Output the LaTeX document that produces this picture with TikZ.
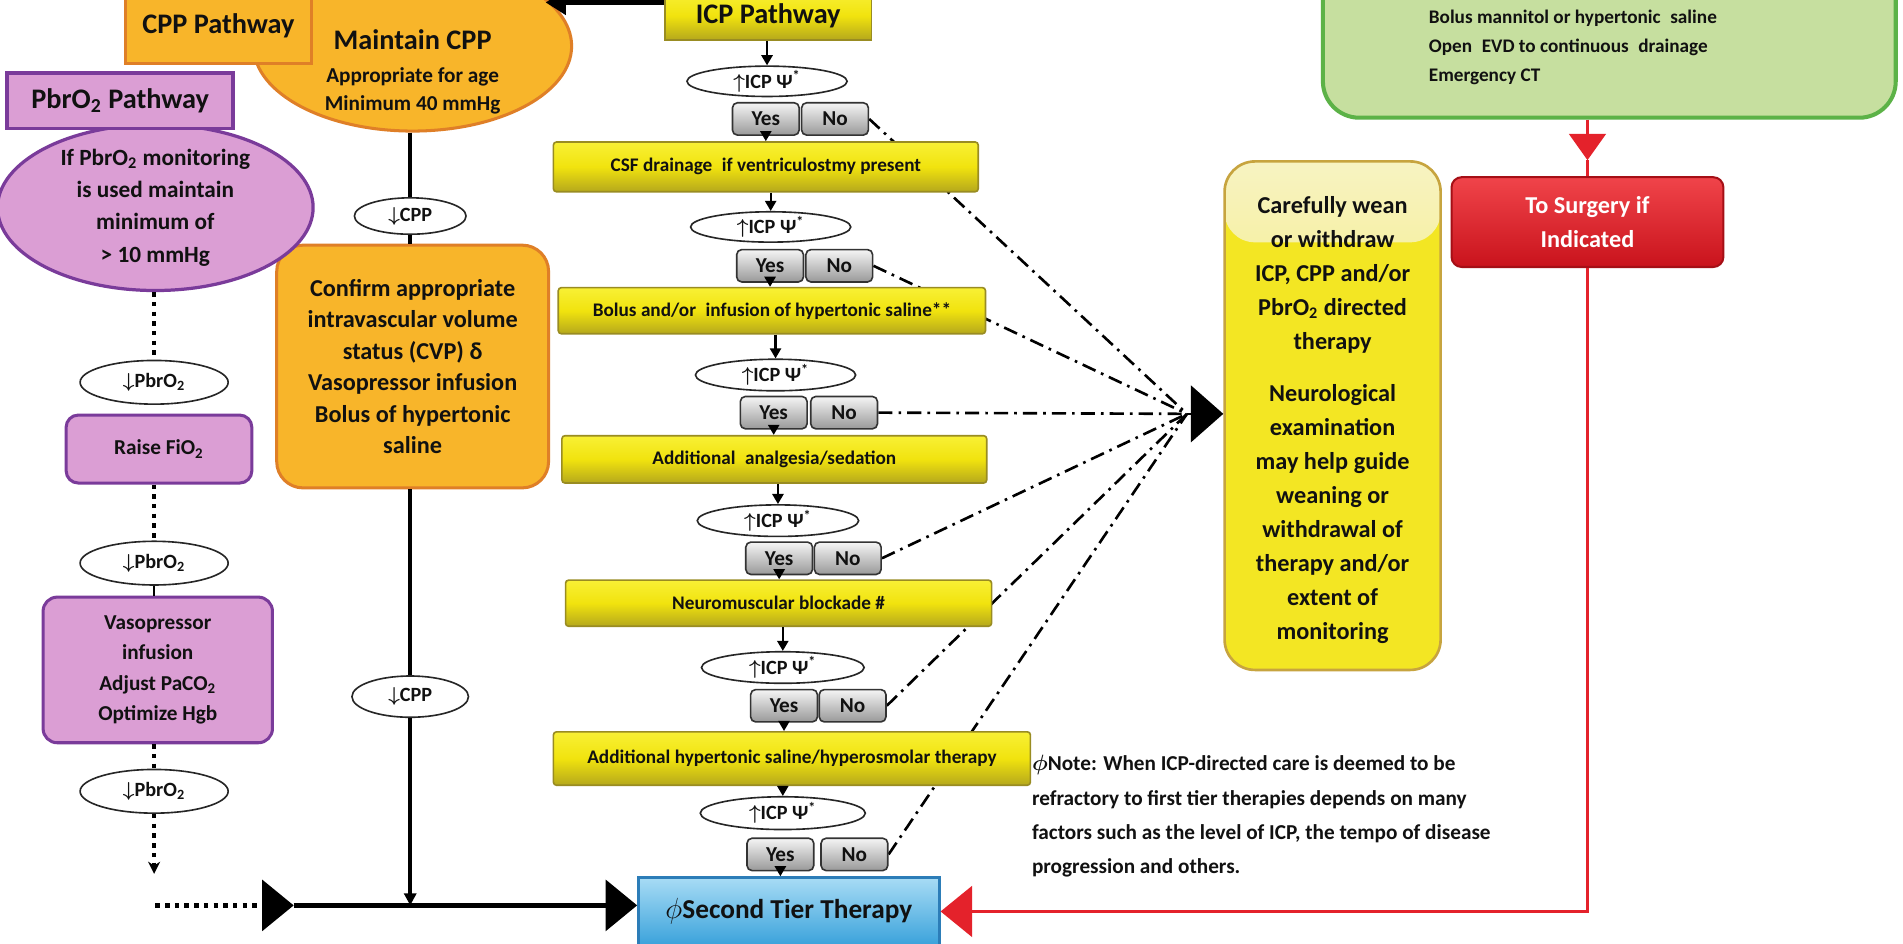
\documentclass[tikz,border=0pt]{standalone}
\usepackage{fontspec}
\setmainfont{Carlito}
\usetikzlibrary{arrows.meta,shapes.geometric}
\pgfdeclarelayer{bg}
\pgfdeclarelayer{lines}
\pgfsetlayers{bg,lines,main}
\definecolor{orF}{HTML}{F8B52A}
\definecolor{orD}{HTML}{DF7F27}
\definecolor{puF}{HTML}{DB9ED4}
\definecolor{puD}{HTML}{7A3B9A}
\definecolor{yeT}{HTML}{F8F035}
\definecolor{yeM}{HTML}{F1E30E}
\definecolor{yeB}{HTML}{B5A81C}
\definecolor{yeD}{HTML}{998C22}
\definecolor{grF}{HTML}{C6DF9F}
\definecolor{grD}{HTML}{5CB247}
\definecolor{rdT}{HTML}{F0444A}
\definecolor{rdB}{HTML}{C9131C}
\definecolor{rdD}{HTML}{A50F16}
\definecolor{rdL}{HTML}{E4222B}
\definecolor{blT}{HTML}{A8DCF5}
\definecolor{blB}{HTML}{3AA2DB}
\definecolor{blD}{HTML}{2C7DB8}
\definecolor{caT}{HTML}{F7F3C2}
\definecolor{caM}{HTML}{F3E623}
\definecolor{caD}{HTML}{C7A43F}
\definecolor{txt}{HTML}{111111}
\begin{document}
\begin{tikzpicture}[x=0.6pt,y=-0.6pt,
  tb/.style={inner sep=0pt, align=center, text=txt},
  oell/.style={tb, ellipse, fill=orF, draw=orD, line width=1.5pt},
  obox/.style={tb, rectangle, fill=orF, draw=orD, line width=1.5pt},
  pell/.style={tb, ellipse, fill=puF, draw=puD, line width=1.6pt},
  pbox/.style={tb, rectangle, fill=puF, draw=puD, line width=1.8pt},
  ybox/.style={tb, rectangle, rounded corners=1.5pt, draw=yeD, line width=0.8pt,
     top color=yeT, bottom color=yeB, middle color=yeM,
     font=\bfseries\fontsize{9.5}{11.5}\selectfont},
  qell/.style={tb, ellipse, draw=black!85, fill=white, line width=0.8pt,
     font=\bfseries\boldmath\fontsize{10}{12}\selectfont},
  ynbtn/.style={tb, rectangle, rounded corners=2.5pt, draw=black!80, line width=0.8pt,
     top color=white!96!black, bottom color=black!40, minimum width=33pt, minimum height=16pt,
     font=\bfseries\fontsize{10.5}{12}\selectfont},
  sarr/.style={line width=1.1pt, -{Triangle[length=5pt,width=5.5pt]}},
  bigtri/.style={-{Triangle[length=15.6pt,width=25pt]}},
  fanl/.style={line width=1.3pt, dash pattern=on 7pt off 3pt on 1.3pt off 3pt},
  dotl/.style={line width=2.2pt, dash pattern=on 2.2pt off 2.6pt},
  redl/.style={draw=rdL, line width=1.8pt}
]
\begin{pgfonlayer}{bg}
  \fill[white] (0,0) rectangle (1568,777);
\end{pgfonlayer}
\useasboundingbox (0,0) rectangle (1568,777);

% ---------------- CPP pathway ----------------
\node[oell, minimum width=157.2pt, minimum height=84pt] (mcpp) at (340,38) {};
\node[tb, font=\bfseries\fontsize{10.5}{13.5}\selectfont] (mcpptxt) at (340,59)
  {{\fontsize{14}{16}\selectfont Maintain CPP}\\[3pt]Appropriate for age\\Minimum 40 mmHg};
\node[obox, minimum width=91.8pt, minimum height=37.2pt, font=\bfseries\fontsize{14}{16}\selectfont] (cpppath) at (180,21) {CPP Pathway};
\node[qell, minimum width=55.2pt, minimum height=18pt] (cppdn1) at (338,178) {$\downarrow$CPP};
\node[obox, rounded corners=13pt, minimum width=134.4pt, minimum height=120pt,
      font=\bfseries\fontsize{12}{15.6}\selectfont] (confirm) at (340,302)
  {Confirm appropriate\\intravascular volume\\status (CVP) δ\\Vasopressor infusion\\Bolus of hypertonic\\saline};
\node[qell, minimum width=57.6pt, minimum height=20.4pt] (cppdn2) at (338,574) {$\downarrow$CPP};

% ---------------- PbrO2 pathway ----------------
\node[pell, minimum width=156pt, minimum height=80.4pt, font=\bfseries\fontsize{11.5}{16}\selectfont] (pbrell) at (128,171)
  {If PbrO\textsubscript{2} monitoring\\is used maintain\\minimum of\\> 10 mmHg};
\node[pbox, minimum width=111.6pt, minimum height=27.6pt, font=\bfseries\fontsize{14}{16}\selectfont] (pbrpath) at (99,83) {PbrO\textsubscript{2} Pathway};
\node[qell, minimum width=73.2pt, minimum height=21.6pt] (pdn1) at (127,315) {$\downarrow$PbrO\textsubscript{2}};
\node[pbox, rounded corners=6pt, minimum width=91.8pt, minimum height=33.6pt, line width=1.5pt,
      font=\bfseries\fontsize{10.5}{12}\selectfont] (raise) at (131,370) {Raise FiO\textsubscript{2}};
\node[qell, minimum width=73.2pt, minimum height=21.6pt] (pdn2) at (127,464) {$\downarrow$PbrO\textsubscript{2}};
\node[pbox, rounded corners=7pt, minimum width=113.4pt, minimum height=72pt, line width=1.5pt,
      font=\bfseries\fontsize{10.5}{15}\selectfont] (vaso) at (130,552)
  {Vasopressor\\infusion\\Adjust PaCO\textsubscript{2}\\Optimize Hgb};
\node[qell, minimum width=73.2pt, minimum height=21.6pt] (pdn3) at (127,652) {$\downarrow$PbrO\textsubscript{2}};

% ---------------- ICP pathway ----------------
\node[ybox, rounded corners=0pt, minimum width=102pt, minimum height=24pt, font=\bfseries\fontsize{14}{16}\selectfont] (icp) at (633,13) {ICP Pathway};
\node[qell, minimum width=79.2pt, minimum height=15pt] (e1) at (632,67) {$\uparrow$ICP Ψ\textsuperscript{*}};
\node[ynbtn] (yes1) at (631,98) {Yes};
\node[ynbtn] (no1) at (688,98) {No};
\node[ybox, minimum width=210pt, minimum height=24.6pt] (csf) at (631,137.5) {CSF drainage\enspace if ventriculostmy present};
\node[qell, minimum width=79.2pt, minimum height=15pt] (e2) at (635,187) {$\uparrow$ICP Ψ\textsuperscript{*}};
\node[ynbtn] (yes2) at (634.5,219) {Yes};
\node[ynbtn] (no2) at (691.5,219) {No};
\node[ybox, minimum width=211.2pt, minimum height=22.8pt] (bolus) at (636,256) {Bolus and/or\enspace infusion of hypertonic saline**};
\node[qell, minimum width=79.2pt, minimum height=15.6pt] (e3) at (639,309) {$\uparrow$ICP Ψ\textsuperscript{*}};
\node[ynbtn] (yes3) at (637.5,340) {Yes};
\node[ynbtn] (no3) at (695.5,340) {No};
\node[ybox, minimum width=210pt, minimum height=23.4pt] (anal) at (638,378.5) {Additional\enspace analgesia/sedation};
\node[qell, minimum width=79.8pt, minimum height=15.6pt] (e4) at (641,429) {$\uparrow$ICP Ψ\textsuperscript{*}};
\node[ynbtn] (yes4) at (642,460) {Yes};
\node[ynbtn] (no4) at (698.5,460) {No};
\node[ybox, minimum width=210.6pt, minimum height=22.8pt] (neuro) at (641.5,497) {Neuromuscular blockade \#};
\node[qell, minimum width=80.4pt, minimum height=15.6pt] (e5) at (645,550) {$\uparrow$ICP Ψ\textsuperscript{*}};
\node[ynbtn] (yes5) at (646,581.5) {Yes};
\node[ynbtn] (no5) at (702.5,581.5) {No};
\node[ybox, minimum width=235.8pt, minimum height=26.4pt] (addhyp) at (652.5,625) {Additional hypertonic saline/hyperosmolar therapy};
\node[qell, minimum width=81.6pt, minimum height=16.2pt] (e6) at (645,670) {$\uparrow$ICP Ψ\textsuperscript{*}};
\node[ynbtn] (yes6) at (643,704) {Yes};
\node[ynbtn] (no6) at (704,704) {No};
\node[tb, rectangle, draw=blD, line width=1.2pt, top color=blT, bottom color=blB,
      minimum width=148.8pt, minimum height=33.6pt, font=\bfseries\fontsize{13.5}{15}\selectfont] (second) at (650,751) {$\phi$Second Tier Therapy};

% ---------------- right side ----------------
\node[tb, rectangle, rounded corners=18pt, fill=grF, draw=grD, line width=2pt,
      minimum width=283.2pt, minimum height=82.2pt] (green) at (1326,28.5) {};
\node[tb, align=left, anchor=west, font=\bfseries\fontsize{9.5}{14.4}\selectfont] (greentxt) at (1177,39)
  {Bolus mannitol or hypertonic\enspace saline\\Open\enspace EVD to continuous\enspace drainage\\Emergency CT};
\node[tb, rectangle, rounded corners=5pt, draw=rdD, line width=1pt, top color=rdT, bottom color=rdB,
      minimum width=134.4pt, minimum height=44.4pt, text=white,
      font=\bfseries\fontsize{12}{16.5}\selectfont] (surg) at (1308,183) {To Surgery if\\Indicated};
\node[tb, rectangle, rounded corners=15pt, draw=caD, line width=1.3pt, fill=caM,
      path picture={\fill[top color=caT, bottom color=caM]
        (path picture bounding box.north west) rectangle ([yshift=-40pt]path picture bounding box.north east);},
      minimum width=106.8pt, minimum height=251.4pt] (care) at (1098,342.5) {};
\node[tb, font=\bfseries\fontsize{12}{16.8}\selectfont] (caretxt) at (1098,346)
  {Carefully wean\\or withdraw\\ICP, CPP and/or\\PbrO\textsubscript{2} directed\\therapy\\[9pt]Neurological\\examination\\may help guide\\weaning or\\withdrawal of\\therapy and/or\\extent of\\monitoring};
\node[tb, align=left, anchor=north west, font=\bfseries\boldmath\fontsize{10.5}{17}\selectfont] (note) at (850,622)
  {$\phi$Note: When ICP-directed care is deemed to be\\refractory to first tier therapies depends on many\\factors such as the level of ICP, the tempo of disease\\progression and others.};

% ---------------- connectors ----------------
\coordinate (fanpt) at (978,341);
\coordinate (jl) at (242,746);
\coordinate (pc1) at (127,720);
\coordinate (pc2) at (128,746);
\coordinate (rt) at (1308,132);
\path ([yshift=6.6pt]icp.west) coordinate (ta);

\begin{pgfonlayer}{lines}
  \foreach \n in {no1,no2,no3,no4,no5,no6} \draw[fanl] (\n.east) -- (fanpt);
\end{pgfonlayer}
\draw[line width=1pt, -{Triangle[length=16pt,width=28pt]}] (fanpt) -- (fanpt -| care.west);

% top arrow ICP -> Maintain CPP
\draw[line width=2.2pt, -{Triangle[length=10pt,width=12pt]}] (ta) -- (ta -| mcpp.20);

% ICP column
\draw[sarr] (e1.north |- icp.south) -- (e1.north);
\draw[sarr] (yes1.south) -- (yes1.south |- csf.north);
\draw[sarr] (e2.north |- csf.south) -- (e2.north);
\draw[sarr] (yes2.south) -- (yes2.south |- bolus.north);
\draw[sarr] (e3.north |- bolus.south) -- (e3.north);
\draw[sarr] (yes3.south) -- (yes3.south |- anal.north);
\draw[sarr] (e4.north |- anal.south) -- (e4.north);
\draw[sarr] (yes4.south) -- (yes4.south |- neuro.north);
\draw[sarr] (e5.north |- neuro.south) -- (e5.north);
\draw[sarr] (yes5.south) -- (yes5.south |- addhyp.north);
\draw[sarr] (e6.north |- addhyp.south) -- (e6.north);
\draw[sarr] (yes6.south) -- (yes6.south |- second.north);

% CPP column
\draw[line width=1.8pt] (cppdn1.north |- mcpp.south) -- (cppdn1.north);
\draw[line width=1.8pt] (cppdn1.south) -- (cppdn1.south |- confirm.north);
\draw[line width=1.8pt] (cppdn2.north |- confirm.south) -- (cppdn2.north);
\draw[line width=1.8pt, -{Triangle[length=6pt,width=6pt]}] (cppdn2.south) -- (cppdn2.south |- jl);

% PbrO2 column
\draw[dotl] (pdn1.north |- pbrell.south) -- (pdn1.north);
\draw[dotl] (pdn2.north |- raise.south) -- (pdn2.north);
\draw[line width=1pt] (pdn2.south) -- (pdn2.south |- vaso.north);
\draw[dotl] (pdn3.north |- vaso.south) -- (pdn3.north);
\draw[dotl, -{Stealth[length=6pt,width=6pt]}] (pdn3.south) -- (pc1);
\draw[dotl, bigtri] (pc2) -- (jl);

% bottom line into second tier
\draw[line width=2.4pt, bigtri] (jl) -- (second.west |- jl);

% red path
\draw[redl, -{Triangle[length=13pt,width=18pt]}] (surg.north |- green.south) -- (rt);
\draw[redl] (rt) -- (surg.north);
\draw[redl, bigtri] (surg.south) -- (surg.south |- second.east) -- (second.east);
\end{tikzpicture}
\end{document}
